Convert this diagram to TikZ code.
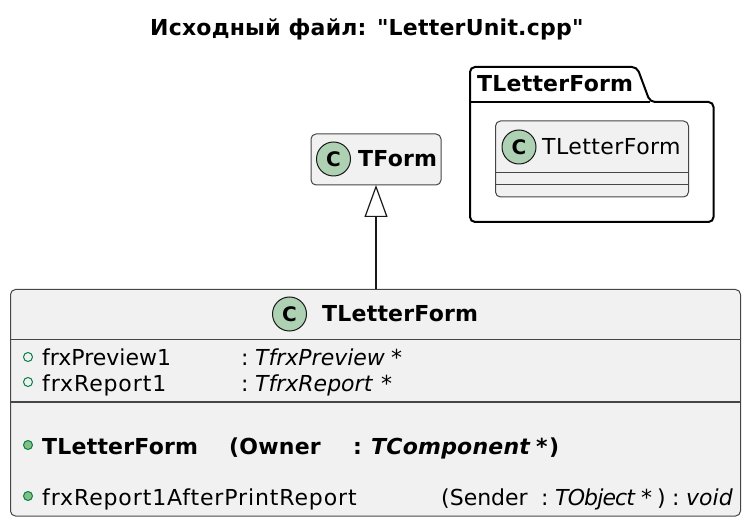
\documentclass[tikz,border=0pt]{standalone}
\usepackage{fontspec}
\setmainfont{DejaVu Sans}[Ligatures=TeXOff, BoldFont={DejaVu Sans Bold}, ItalicFont={DejaVu Sans Oblique}, BoldItalicFont={DejaVu Sans Bold Oblique}]
\usepackage{xcolor}
\usetikzlibrary{arrows.meta}
\definecolor{classfill}{HTML}{F1F1F1}
\definecolor{classline}{HTML}{181818}
\definecolor{spotfill}{HTML}{ADD1B2}
\definecolor{dotfill}{HTML}{84BE84}
\definecolor{dotline}{HTML}{038048}

\begin{document}
\begin{tikzpicture}[
      x=1pt, y=-1pt,
      classbox/.style={draw=classline!80, fill=classfill, rounded corners=5pt, line width=1pt,
                  inner sep=0pt, outer sep=0pt},
      spot/.style={draw=classline, fill=spotfill, circle, line width=1pt, minimum size=34pt,
                  inner sep=0pt, font=\fontsize{20}{20}\selectfont\bfseries},
      lbl/.style={anchor=base west, inner sep=0pt, font=\fontsize{22}{22}\selectfont},
      wide/.style={lbl, font=\fontsize{22}{22}\selectfont\addfontfeature{LetterSpace=4}},
      bold/.style={lbl, font=\fontsize{22}{22}\selectfont\bfseries\addfontfeature{LetterSpace=1}},
      field/.style={draw=dotline, line width=1pt, circle, minimum size=9pt, inner sep=0pt},
      method/.style={field, fill=dotfill},
      sep/.style={classline!80, line width=0.9pt},
      arr/.style={-{Triangle[open, length=32pt, width=23pt, fill=white]}, classline, line width=1.2pt},
    ]
    \useasboundingbox (0,0) rectangle (750,526);
    % title
    \node[bold] (title) at (150,36) {Исходный файл: "LetterUnit.cpp"};
    % package
    \draw[line width=2pt, rounded corners=5pt, fill=white] (470,102) -- (470,67) -- (637,67) -- (650,102)
      -- (713.5,102) -- (713.5,222) -- (470,222) -- cycle;
    \draw[line width=2pt] (470,102) -- (650,102);
    \node[bold] (pkgname) at (477,92) {TLetterForm};
    % inner class
    \node[classbox, minimum width=193pt, minimum height=76pt] (inner) at (592,159) {};
    \draw[sep] (495.5,172) -- (688.5,172);
    \draw[sep] (495.5,184.5) -- (688.5,184.5);
    \node[spot] (innerspot) at (519,147) {C};
    \node[lbl, font=\fontsize{22}{22}\selectfont\addfontfeature{LetterSpace=2}] (innername) at (542,155) {TLetterForm};
    % TForm
    \node[classbox, minimum width=130pt, minimum height=51pt] (tform) at (376,159.5) {};
    \node[spot] (tformspot) at (333.5,159) {C};
    \node[bold] (tformname) at (358,167) {TForm};
    % main class
    \node[classbox, minimum width=730pt, minimum height=226.5pt] (main) at (375.5,402.75) {};
    \draw[sep] (main.west |- 0,339) -- (main.east |- 0,339);
    \draw[sep, line width=1.3pt] (main.west |- 0,402) -- (main.east |- 0,402);
    \node[spot] (mainspot) at (289.5,314) {C};
    \node[bold] (mainname) at (322,322) {TLetterForm};
    % fields
    \node[field] (f1) at (28,357) {};
    \node[lbl] (f1name) at (42,366) {frxPreview1};
    \node[lbl] (f1colon) at (241,366) {:};
    \node[lbl] (f1type) at (255,366) {\itshape TfrxPreview};
    \node[lbl] (f1star) at (391,366) {\itshape *};
    \node[field] (f2) at (28,382) {};
    \node[wide] (f2name) at (42,392) {frxReport1};
    \node[lbl] (f2colon) at (241,392) {:};
    \node[lbl] (f2type) at (255,392) {\itshape TfrxReport};
    \node[lbl] (f2star) at (381,392) {\itshape *};
    % methods
    \node[method] (m1) at (28,445) {};
    \node[bold] (m1name) at (42,455) {TLetterForm};
    \node[bold] (m1arg) at (229,455) {(Owner};
    \node[bold] (m1colon) at (353,455) {:};
    \node[bold] (m1type) at (371,455) {\itshape TComponent};
    \node[bold] (m1star) at (536,455) {\itshape *};
    \node[bold] (m1close) at (549,455) {)};
    \node[method] (m2) at (28,496) {};
    \node[wide] (m2name) at (42,505) {frxReport1AfterPrintReport};
    \node[lbl] (m2arg) at (441,505) {(Sender};
    \node[lbl] (m2colon) at (541,505) {:};
    \node[lbl, font=\fontsize{22}{22}\selectfont\itshape\addfontfeature{LetterSpace=-4}] (m2type) at (555,505) {TObject};
    \node[lbl] (m2star) at (641,505) {\itshape *};
    \node[lbl] (m2close) at (657,505) {)};
    \node[lbl] (m2colon2) at (672,505) {:};
    \node[lbl] (m2ret) at (686,505) {\itshape void};
    % inheritance
    \draw[arr] (main.north -| tform.south) -- (tform.south);
  \end{tikzpicture}
\end{document}
